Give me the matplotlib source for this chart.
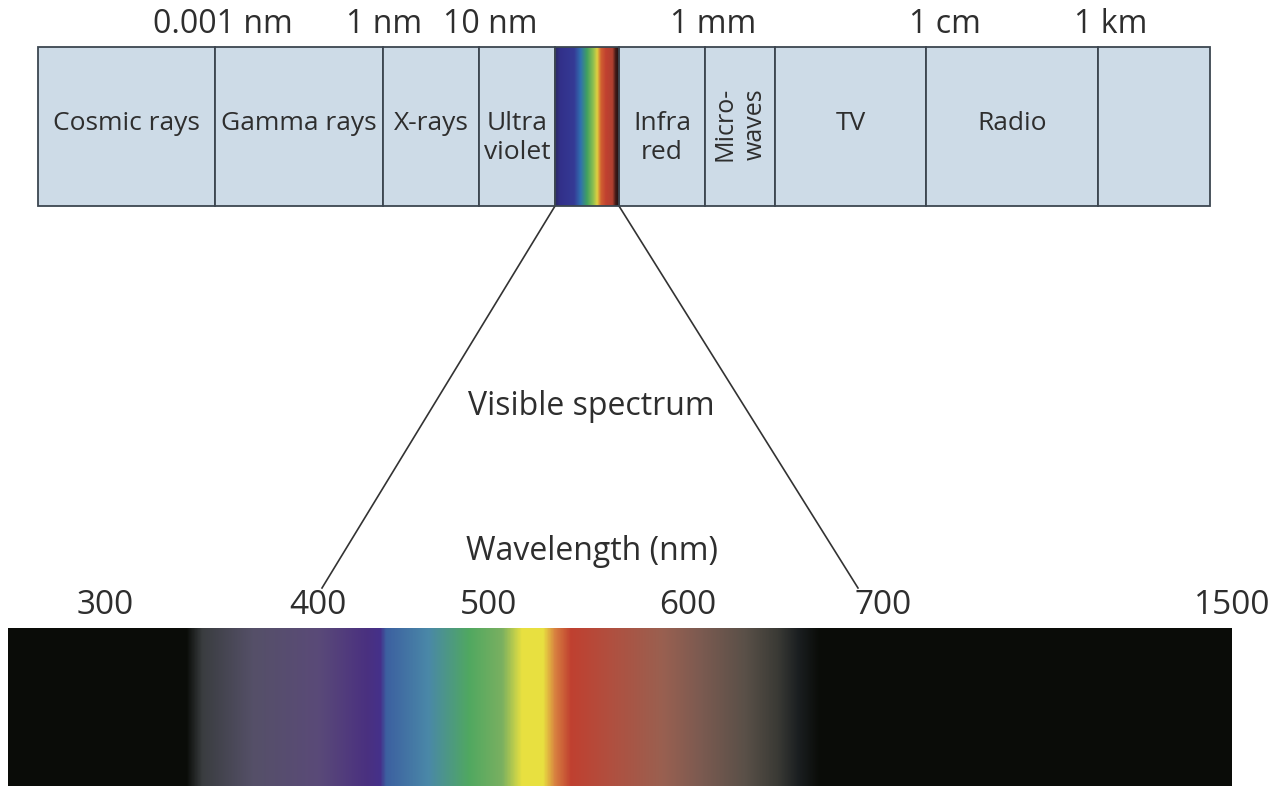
import matplotlib.pyplot as plt
import numpy as np
from matplotlib.patches import Rectangle
from matplotlib.colors import LinearSegmentedColormap

plt.rcParams['font.family'] = ['Open Sans', 'DejaVu Sans']

# electromagnetic spectrum bands (pixel positions along the top bar)
band_edges = [38, 215, 383, 479, 555, 619, 705, 775, 926, 1098, 1210]
band_names = ['Cosmic rays', 'Gamma rays', 'X-rays', 'Ultra\nviolet', '',
              'Infra\nred', 'Micro-\nwaves', 'TV', 'Radio', '']
scale_labels = ['0.001 nm', '1 nm', '10 nm', '1 mm', '1 cm', '1 km']
scale_pos = [223, 384, 490, 713, 945, 1111]

# visible spectrum strip
wave_labels = ['300', '400', '500', '600', '700', '1500']
wave_pos = [105, 318, 489, 688, 883, 1232]
spec_x = [8, 186, 202, 253, 318, 367, 380, 386, 428, 469, 502, 522, 543,
          555, 571, 612, 662, 703, 745, 778, 799, 820, 1232]
spec_c = ['#0a0c08', '#0a0c08', '#3a3d40', '#555068', '#5a4a78', '#4a3080',
          '#45308a', '#3c60a0', '#4a88a8', '#50a860', '#7ab060', '#e8e040',
          '#e8e040', '#d88040', '#c04030', '#b05040', '#9a6050', '#7a5a50',
          '#5a5048', '#3a3a35', '#1a1e20', '#0a0c08', '#0a0c08']

# small rainbow inside the top bar
rain_f = [0, 0.08, 0.3, 0.4, 0.5, 0.6, 0.66, 0.72, 0.8, 0.9, 0.95, 1]
rain_c = ['#2a2860', '#32308a', '#353a95', '#3070b0', '#40a060', '#90c050',
          '#e0d040', '#d06030', '#c04030', '#b04030', '#401a18', '#201010']

bar_top, bar_bot = 47, 206
spec_top, spec_bot = 628, 786
text_col = '#2e2e2e'

fig = plt.figure(figsize=(12.73, 7.89), dpi=100)
ax = fig.add_axes([0, 0, 1, 1])
ax.set_xlim(0, 1273)
ax.set_ylim(789, 0)
ax.axis('off')

# top bar
for i in range(len(band_edges) - 1):
    x0, x1 = band_edges[i], band_edges[i + 1]
    if i == 4:
        continue
    ax.add_patch(Rectangle((x0, bar_top), x1 - x0, bar_bot - bar_top,
                           facecolor='#cddbe7', edgecolor='#3c4650', lw=1.3, zorder=1))
    if band_names[i] == 'Micro-\nwaves':
        ax.text((x0 + x1) / 2, 124, band_names[i], rotation=90, ha='center', va='center',
                fontsize=18, color=text_col, linespacing=1.3)
    elif band_names[i]:
        y = 138 if '\n' in band_names[i] else 123
        ax.text((x0 + x1) / 2, y, band_names[i], ha='center', va='center',
                fontsize=19, color=text_col, linespacing=1.2)

# rainbow in the bar
x0, x1 = band_edges[4], band_edges[5]
rain_cmap = LinearSegmentedColormap.from_list('rain', list(zip(rain_f, rain_c)), N=1024)
ax.imshow(np.linspace(0, 1, 300)[None, :], extent=(x0, x1, bar_bot, bar_top),
          cmap=rain_cmap, aspect='auto', zorder=2)
ax.add_patch(Rectangle((x0, bar_top), x1 - x0, bar_bot - bar_top,
                       fill=False, edgecolor='#3c4650', lw=1.3, zorder=3))

for lab, xp in zip(scale_labels, scale_pos):
    ax.text(xp, 24, lab, ha='center', va='center', fontsize=23, color=text_col)

# bottom spectrum
span = spec_x[-1] - spec_x[0]
stops = [((x - spec_x[0]) / span, c) for x, c in zip(spec_x, spec_c)]
spec_cmap = LinearSegmentedColormap.from_list('spec', stops, N=2048)
ax.imshow(np.linspace(0, 1, 1224)[None, :], extent=(spec_x[0], spec_x[-1], spec_bot, spec_top),
          cmap=spec_cmap, aspect='auto', zorder=2)

for lab, xp in zip(wave_labels, wave_pos):
    ax.text(xp, 606, lab, ha='center', va='center', fontsize=24, color=text_col)

# zoom lines
ax.plot([band_edges[4], 322], [bar_bot, 588], color='#333333', lw=1.2)
ax.plot([band_edges[5], 858], [bar_bot, 588], color='#333333', lw=1.2)

ax.text(591, 406, 'Visible spectrum', ha='center', va='center', fontsize=23, color=text_col)
ax.text(592, 551, 'Wavelength (nm)', ha='center', va='center', fontsize=23, color=text_col)

fig.savefig('out.png', dpi=100)
